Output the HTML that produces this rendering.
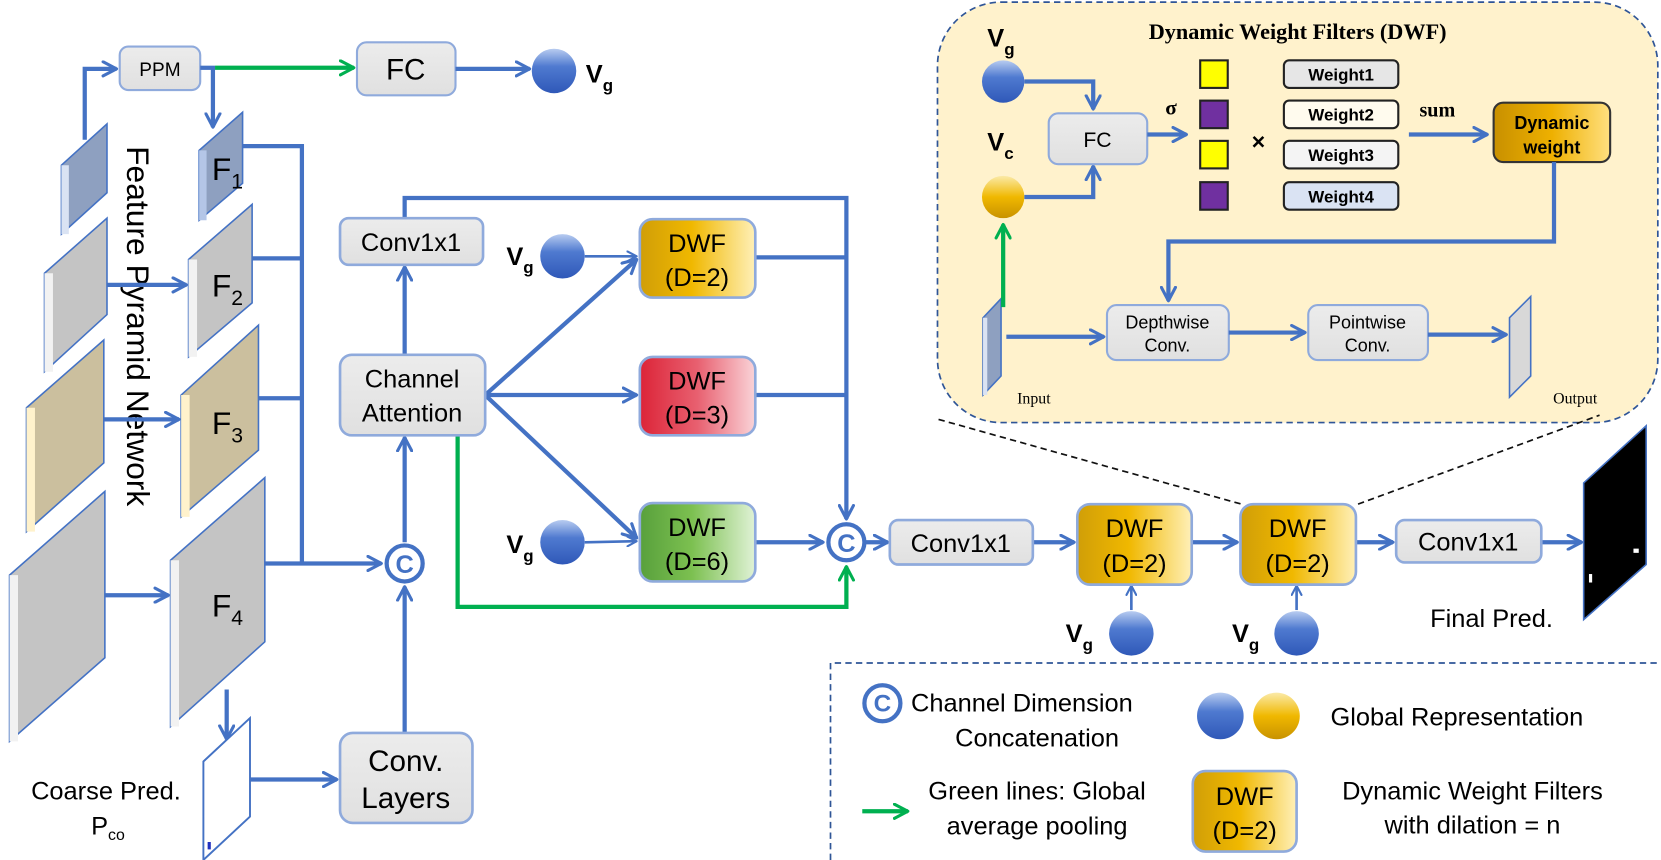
<!DOCTYPE html>
<html><head><meta charset="utf-8"><style>
html,body{margin:0;padding:0;background:#fff;}
svg{display:block;}
text{font-family:"Liberation Sans",sans-serif;}
.s{font-family:"Liberation Serif",serif;}
</style></head><body>
<svg width="1661" height="860" viewBox="0 0 1568 812" preserveAspectRatio="none" xmlns="http://www.w3.org/2000/svg">
<defs>
<marker id="ab" viewBox="0 0 12 12" refX="10.5" refY="6" markerWidth="16" markerHeight="16" markerUnits="userSpaceOnUse" orient="auto"><path d="M1,1 L10.5,6 L1,11" fill="none" stroke="#4472c4" stroke-width="2.2" stroke-linecap="round" stroke-linejoin="round"/></marker>
<marker id="ag" viewBox="0 0 12 12" refX="10.5" refY="6" markerWidth="16" markerHeight="16" markerUnits="userSpaceOnUse" orient="auto"><path d="M1,1 L10.5,6 L1,11" fill="none" stroke="#00b050" stroke-width="2.2" stroke-linecap="round" stroke-linejoin="round"/></marker>
<marker id="as" viewBox="0 0 12 12" refX="10.5" refY="6" markerWidth="11" markerHeight="11" markerUnits="userSpaceOnUse" orient="auto"><path d="M1,1 L10.5,6 L1,11" fill="none" stroke="#4472c4" stroke-width="2.2" stroke-linecap="round" stroke-linejoin="round"/></marker>
<linearGradient id="gy" x1="0" y1="0" x2="0" y2="1"><stop offset="0" stop-color="#ececec"/><stop offset="1" stop-color="#e0e0e0"/></linearGradient>
<linearGradient id="go" x1="0" y1="0" x2="1" y2="0"><stop offset="0" stop-color="#d09e08"/><stop offset="0.45" stop-color="#f0b800"/><stop offset="1" stop-color="#fff0b8"/></linearGradient>
<linearGradient id="gr" x1="0" y1="0" x2="1" y2="0"><stop offset="0" stop-color="#dc2438"/><stop offset="0.5" stop-color="#e86070"/><stop offset="1" stop-color="#fad4d8"/></linearGradient>
<linearGradient id="gg" x1="0" y1="0" x2="1" y2="0"><stop offset="0" stop-color="#58a03c"/><stop offset="0.45" stop-color="#7cc050"/><stop offset="1" stop-color="#e0f2d6"/></linearGradient>
<linearGradient id="gd" x1="0" y1="0" x2="1" y2="0"><stop offset="0" stop-color="#c89000"/><stop offset="0.5" stop-color="#eeb000"/><stop offset="1" stop-color="#ffe080"/></linearGradient>
<linearGradient id="cb" x1="0" y1="0" x2="0" y2="1"><stop offset="0" stop-color="#b8ccf0"/><stop offset="0.4" stop-color="#4f7ad0"/><stop offset="1" stop-color="#2f58b8"/></linearGradient>
<linearGradient id="co" x1="0" y1="0" x2="0" y2="1"><stop offset="0" stop-color="#fbeaa8"/><stop offset="0.5" stop-color="#f0b800"/><stop offset="1" stop-color="#c89200"/></linearGradient>
</defs>

<!-- DWF panel -->
<rect x="885" y="2" width="680" height="397" rx="60" fill="#fff2cc" stroke="#2f5597" stroke-width="1.6" stroke-dasharray="6,4"/>
<text x="1225" y="37" class="s" font-size="21" font-weight="bold" text-anchor="middle">Dynamic Weight Filters (DWF)</text>
<text x="932" y="44" font-size="24" font-weight="bold">V<tspan font-size="16" dy="8">g</tspan></text>
<circle cx="947" cy="77" r="20" fill="url(#cb)"/>
<text x="932" y="142" font-size="24" font-weight="bold">V<tspan font-size="16" dy="8">c</tspan></text>
<circle cx="947" cy="186" r="20" fill="url(#co)"/>
<polyline points="967,77 1032,77 1032,103" fill="none" stroke="#4472c4" stroke-width="4" marker-end="url(#ab)"/>
<polyline points="967,186 1032,186 1032,157" fill="none" stroke="#4472c4" stroke-width="4" marker-end="url(#ab)"/>
<rect x="990" y="107" width="93" height="48" rx="9" fill="url(#gy)" stroke="#8faadc" stroke-width="2"/>
<text x="1036" y="139" font-size="20" text-anchor="middle">FC</text>
<line x1="1083" y1="127" x2="1120" y2="127" stroke="#4472c4" stroke-width="4" marker-end="url(#ab)"/>
<text x="1100" y="108" class="s" font-size="20" font-weight="bold">σ</text>
<rect x="1133" y="57" width="26" height="26" fill="#ffff00" stroke="#222" stroke-width="2"/>
<rect x="1133" y="95" width="26" height="26" fill="#7030a0" stroke="#222" stroke-width="2"/>
<rect x="1133" y="133" width="26" height="26" fill="#ffff00" stroke="#222" stroke-width="2"/>
<rect x="1133" y="172" width="26" height="26" fill="#7030a0" stroke="#222" stroke-width="2"/>
<text x="1188" y="141" font-size="22" font-weight="bold" text-anchor="middle">×</text>
<rect x="1212" y="57" width="108" height="26" rx="5" fill="#e6e6e6" stroke="#222" stroke-width="2"/>
<rect x="1212" y="95" width="108" height="26" rx="5" fill="#fffbee" stroke="#222" stroke-width="2"/>
<rect x="1212" y="133" width="108" height="26" rx="5" fill="#f4f4f4" stroke="#222" stroke-width="2"/>
<rect x="1212" y="172" width="108" height="26" rx="5" fill="#dae3f3" stroke="#222" stroke-width="2"/>
<g font-size="16" font-weight="bold" text-anchor="middle">
<text x="1266" y="76">Weight1</text><text x="1266" y="114">Weight2</text><text x="1266" y="152">Weight3</text><text x="1266" y="191">Weight4</text></g>
<text x="1340" y="110" class="s" font-size="19" font-weight="bold">sum</text>
<line x1="1330" y1="127" x2="1404" y2="127" stroke="#4472c4" stroke-width="4" marker-end="url(#ab)"/>
<rect x="1410" y="97" width="110" height="56" rx="9" fill="url(#gd)" stroke="#333" stroke-width="2"/>
<text x="1465" y="122" font-size="17" font-weight="bold" text-anchor="middle">Dynamic</text>
<text x="1465" y="145" font-size="17" font-weight="bold" text-anchor="middle">weight</text>
<polyline points="1467,153 1467,228 1103,228 1103,284" fill="none" stroke="#4472c4" stroke-width="4" marker-end="url(#ab)"/>
<polygon points="928,300 945,282 945,355 928,373" fill="#8ea0c0" stroke="#4472c4" stroke-width="1.5"/>
<polygon points="928,300 932,300 932,373 928,373" fill="#dae3f3"/>
<line x1="947" y1="290" x2="947" y2="212" stroke="#00b050" stroke-width="4" marker-end="url(#ag)"/>
<line x1="950" y1="318" x2="1042" y2="318" stroke="#4472c4" stroke-width="4" marker-end="url(#ab)"/>
<rect x="1045" y="288" width="115" height="52" rx="9" fill="url(#gy)" stroke="#8faadc" stroke-width="2"/>
<text x="1102" y="310" font-size="17" text-anchor="middle">Depthwise</text>
<text x="1102" y="332" font-size="17" text-anchor="middle">Conv.</text>
<line x1="1160" y1="314" x2="1232" y2="314" stroke="#4472c4" stroke-width="4" marker-end="url(#ab)"/>
<rect x="1235" y="288" width="113" height="52" rx="9" fill="url(#gy)" stroke="#8faadc" stroke-width="2"/>
<text x="1291" y="310" font-size="17" text-anchor="middle">Pointwise</text>
<text x="1291" y="332" font-size="17" text-anchor="middle">Conv.</text>
<line x1="1348" y1="316" x2="1422" y2="316" stroke="#4472c4" stroke-width="4" marker-end="url(#ab)"/>
<polygon points="1425,300 1445,280 1445,355 1425,375" fill="#d8d8d8" stroke="#4472c4" stroke-width="1.5"/>
<text x="976" y="381" class="s" font-size="15" text-anchor="middle">Input</text>
<text x="1487" y="381" class="s" font-size="15" text-anchor="middle">Output</text>

<!-- dashed zoom lines -->
<line x1="886" y1="396" x2="1172" y2="476" stroke="#111" stroke-width="1.6" stroke-dasharray="6,4"/>
<line x1="1282" y1="476" x2="1510" y2="392" stroke="#111" stroke-width="1.6" stroke-dasharray="6,4"/>

<!-- left planes -->
<g stroke="#4472c4" stroke-width="1.5">
<polygon points="58,156 101,117 101,182 58,221" fill="#8ea0c0"/>
<polygon points="42,258 101,206 101,297 42,351" fill="#c4c4c4"/>
<polygon points="25,385 98,321 98,437 25,502" fill="#cbbf9e"/>
<polygon points="9,543 99,464 99,621 9,700" fill="#c4c4c4"/>
<polygon points="188,142 229,106 229,173 188,208" fill="#8ea0c0"/>
<polygon points="178,245 238,193 238,286 178,337" fill="#c4c4c4"/>
<polygon points="171,373 244,307 244,425 171,488" fill="#cbbf9e"/>
<polygon points="161,529 250,451 250,606 161,686" fill="#c4c4c4"/>
</g>
<g stroke="none">
<polygon points="58,156 65,156 65,221 58,221" fill="#dae3f3"/>
<polygon points="42,258 50,258 50,351 42,351" fill="#f2f2f2"/>
<polygon points="25,385 33,385 33,502 25,502" fill="#fff2cc"/>
<polygon points="9,543 17,543 17,700 9,700" fill="#f2f2f2"/>
<polygon points="188,142 195,142 195,208 188,208" fill="#b4c6e7"/>
<polygon points="178,245 186,245 186,337 178,337" fill="#f2f2f2"/>
<polygon points="171,373 179,373 179,488 171,488" fill="#fff2cc"/>
<polygon points="161,529 169,529 169,686 161,686" fill="#f2f2f2"/>
</g>
<g font-size="30"><text x="200" y="170">F<tspan font-size="20" dy="8">1</tspan></text>
<text x="200" y="280">F<tspan font-size="20" dy="8">2</tspan></text>
<text x="200" y="410">F<tspan font-size="20" dy="8">3</tspan></text>
<text x="200" y="582">F<tspan font-size="20" dy="8">4</tspan></text></g>
<text transform="translate(120,138) rotate(90)" font-size="30">Feature  Pyramid  Network</text>

<!-- top -->
<polyline points="80,132 80,65 110,65" fill="none" stroke="#4472c4" stroke-width="4" marker-end="url(#ab)"/>
<rect x="113" y="44" width="76" height="41" rx="8" fill="url(#gy)" stroke="#8faadc" stroke-width="2"/>
<text x="151" y="72" font-size="18" text-anchor="middle">PPM</text>
<line x1="189" y1="64" x2="203" y2="64" stroke="#4472c4" stroke-width="4"/>
<polyline points="201,64 201,120" fill="none" stroke="#4472c4" stroke-width="4" marker-end="url(#ab)"/>
<line x1="203" y1="64" x2="334" y2="64" stroke="#00b050" stroke-width="4" marker-end="url(#ag)"/>
<rect x="337" y="40" width="93" height="50" rx="9" fill="url(#gy)" stroke="#8faadc" stroke-width="2"/>
<text x="383" y="75" font-size="28" text-anchor="middle">FC</text>
<line x1="430" y1="65" x2="500" y2="65" stroke="#4472c4" stroke-width="4" marker-end="url(#ab)"/>
<circle cx="523" cy="67" r="21" fill="url(#cb)"/>
<text x="553" y="78" font-size="24" font-weight="bold">V<tspan font-size="16" dy="8">g</tspan></text>

<!-- bus -->
<g fill="none" stroke="#4472c4" stroke-width="4">
<polyline points="229,138 285,138 285,532"/>
<line x1="238" y1="244" x2="285" y2="244"/>
<line x1="244" y1="376" x2="285" y2="376"/>
<line x1="250" y1="532" x2="360" y2="532" marker-end="url(#ab)"/>
<line x1="101" y1="269" x2="176" y2="269" marker-end="url(#ab)"/>
<line x1="98" y1="396" x2="169" y2="396" marker-end="url(#ab)"/>
<line x1="99" y1="562" x2="159" y2="562" marker-end="url(#ab)"/>
<line x1="214" y1="651" x2="214" y2="698" marker-end="url(#ab)"/>
<line x1="236" y1="736" x2="318" y2="736" marker-end="url(#ab)"/>
<line x1="382" y1="692" x2="382" y2="554" marker-end="url(#ab)"/>
<line x1="382" y1="512" x2="382" y2="413" marker-end="url(#ab)"/>
<line x1="382" y1="335" x2="382" y2="252" marker-end="url(#ab)"/>
<polyline points="382,206 382,187 799,187 799,490" marker-end="url(#ab)"/>
<line x1="713" y1="243" x2="799" y2="243"/>
<line x1="713" y1="373" x2="799" y2="373"/>
<line x1="713" y1="512" x2="777" y2="512" marker-end="url(#ab)"/>
<line x1="458" y1="373" x2="601" y2="245" marker-end="url(#ab)"/>
<line x1="458" y1="373" x2="601" y2="373" marker-end="url(#ab)"/>
<line x1="458" y1="373" x2="601" y2="508" marker-end="url(#ab)"/>
<line x1="552" y1="242" x2="601" y2="242" stroke-width="2.5" marker-end="url(#as)"/>
<line x1="552" y1="512" x2="601" y2="511" stroke-width="2.5" marker-end="url(#as)"/>
</g>
<polyline points="432,411 432,573 799,573 799,535" fill="none" stroke="#00b050" stroke-width="4" marker-end="url(#ag)"/>

<!-- coarse pred -->
<polygon points="192,719 236,678 236,771 192,812" fill="#fff" stroke="#4472c4" stroke-width="1.8"/>
<rect x="196" y="795" width="3" height="7" fill="#2030c0"/>
<text x="100" y="755" font-size="24" text-anchor="middle">Coarse Pred.</text>
<text x="86" y="788" font-size="24">P<tspan font-size="15" dy="5">co</tspan></text>

<!-- boxes -->
<rect x="321" y="692" width="125" height="85" rx="12" fill="url(#gy)" stroke="#8faadc" stroke-width="2.5"/>
<text x="383" y="728" font-size="28" text-anchor="middle">Conv.</text>
<text x="383" y="763" font-size="28" text-anchor="middle">Layers</text>
<rect x="321" y="335" width="137" height="76" rx="11" fill="url(#gy)" stroke="#8faadc" stroke-width="2.5"/>
<text x="389" y="366" font-size="24" text-anchor="middle">Channel</text>
<text x="389" y="398" font-size="24" text-anchor="middle">Attention</text>
<rect x="321" y="206" width="135" height="44" rx="8" fill="url(#gy)" stroke="#8faadc" stroke-width="2.5"/>
<text x="388" y="237" font-size="24" text-anchor="middle">Conv1x1</text>

<circle cx="382" cy="532" r="17" fill="#fff" stroke="#4472c4" stroke-width="4"/>
<text x="382" y="541" font-size="24" font-weight="bold" fill="#4472c4" text-anchor="middle">C</text>
<circle cx="799" cy="512" r="17" fill="#fff" stroke="#4472c4" stroke-width="4"/>
<text x="799" y="521" font-size="24" font-weight="bold" fill="#4472c4" text-anchor="middle">C</text>

<circle cx="531" cy="242" r="21" fill="url(#cb)"/>
<text x="478" y="250" font-size="24" font-weight="bold">V<tspan font-size="16" dy="8">g</tspan></text>
<circle cx="531" cy="512" r="21" fill="url(#cb)"/>
<text x="478" y="522" font-size="24" font-weight="bold">V<tspan font-size="16" dy="8">g</tspan></text>

<g stroke="#8faadc" stroke-width="2.5">
<rect x="604" y="207" width="109" height="74" rx="12" fill="url(#go)"/>
<rect x="604" y="337" width="109" height="74" rx="12" fill="url(#gr)"/>
<rect x="604" y="475" width="109" height="74" rx="12" fill="url(#gg)"/>
</g>
<g font-size="24" text-anchor="middle">
<text x="658" y="238">DWF</text><text x="658" y="270">(D=2)</text>
<text x="658" y="368">DWF</text><text x="658" y="400">(D=3)</text>
<text x="658" y="506">DWF</text><text x="658" y="538">(D=6)</text>
</g>

<!-- right pipeline -->
<g fill="none" stroke="#4472c4" stroke-width="4">
<line x1="816" y1="512" x2="838" y2="512" marker-end="url(#ab)"/>
<line x1="975" y1="512" x2="1014" y2="512" marker-end="url(#ab)"/>
<line x1="1125" y1="512" x2="1168" y2="512" marker-end="url(#ab)"/>
<line x1="1280" y1="512" x2="1315" y2="512" marker-end="url(#ab)"/>
<line x1="1455" y1="512" x2="1493" y2="512" marker-end="url(#ab)"/>
<line x1="1068" y1="576" x2="1068" y2="553" stroke-width="2.5" marker-end="url(#as)"/>
<line x1="1224" y1="576" x2="1224" y2="553" stroke-width="2.5" marker-end="url(#as)"/>
</g>
<rect x="840" y="491" width="135" height="42" rx="8" fill="url(#gy)" stroke="#8faadc" stroke-width="2.5"/>
<text x="907" y="521" font-size="24" text-anchor="middle">Conv1x1</text>
<rect x="1017" y="476" width="108" height="76" rx="12" fill="url(#go)" stroke="#8faadc" stroke-width="2.5"/>
<rect x="1171" y="476" width="109" height="76" rx="12" fill="url(#go)" stroke="#8faadc" stroke-width="2.5"/>
<g font-size="24" text-anchor="middle">
<text x="1071" y="507">DWF</text><text x="1071" y="540">(D=2)</text>
<text x="1225" y="507">DWF</text><text x="1225" y="540">(D=2)</text></g>
<rect x="1318" y="491" width="137" height="40" rx="8" fill="url(#gy)" stroke="#8faadc" stroke-width="2.5"/>
<text x="1386" y="520" font-size="24" text-anchor="middle">Conv1x1</text>
<circle cx="1068" cy="598" r="21" fill="url(#cb)"/>
<text x="1006" y="606" font-size="24" font-weight="bold">V<tspan font-size="16" dy="8">g</tspan></text>
<circle cx="1224" cy="598" r="21" fill="url(#cb)"/>
<text x="1163" y="606" font-size="24" font-weight="bold">V<tspan font-size="16" dy="8">g</tspan></text>
<polygon points="1495,456 1554,402 1554,533 1495,585" fill="#000" stroke="#4472c4" stroke-width="1.5"/>
<rect x="1500" y="542" width="3" height="8" fill="#fff"/>
<rect x="1542" y="518" width="5" height="4" fill="#fff"/>
<text x="1408" y="592" font-size="24" text-anchor="middle">Final Pred.</text>

<!-- legend -->
<path d="M784,812 L784,626 L1568,626" fill="none" stroke="#2f5597" stroke-width="1.6" stroke-dasharray="6,4"/>
<circle cx="833" cy="664" r="17" fill="#fff" stroke="#4472c4" stroke-width="4"/>
<text x="833" y="672" font-size="23" font-weight="bold" fill="#4472c4" text-anchor="middle">C</text>
<text x="860" y="672" font-size="24">Channel Dimension</text>
<text x="979" y="705" font-size="24" text-anchor="middle">Concatenation</text>
<circle cx="1152" cy="676" r="22" fill="url(#cb)"/>
<circle cx="1205" cy="676" r="22" fill="url(#co)"/>
<text x="1256" y="685" font-size="24">Global Representation</text>
<line x1="814" y1="766" x2="857" y2="766" stroke="#00b050" stroke-width="4" marker-end="url(#ag)"/>
<text x="979" y="755" font-size="24" text-anchor="middle">Green lines: Global</text>
<text x="979" y="788" font-size="24" text-anchor="middle">average pooling</text>
<rect x="1126" y="728" width="98" height="76" rx="12" fill="url(#go)" stroke="#8faadc" stroke-width="2.5"/>
<text x="1175" y="760" font-size="24" text-anchor="middle">DWF</text>
<text x="1175" y="792" font-size="24" text-anchor="middle">(D=2)</text>
<text x="1390" y="755" font-size="24" text-anchor="middle">Dynamic Weight Filters</text>
<text x="1390" y="787" font-size="24" text-anchor="middle">with dilation = n</text>
</svg>
</body></html>
